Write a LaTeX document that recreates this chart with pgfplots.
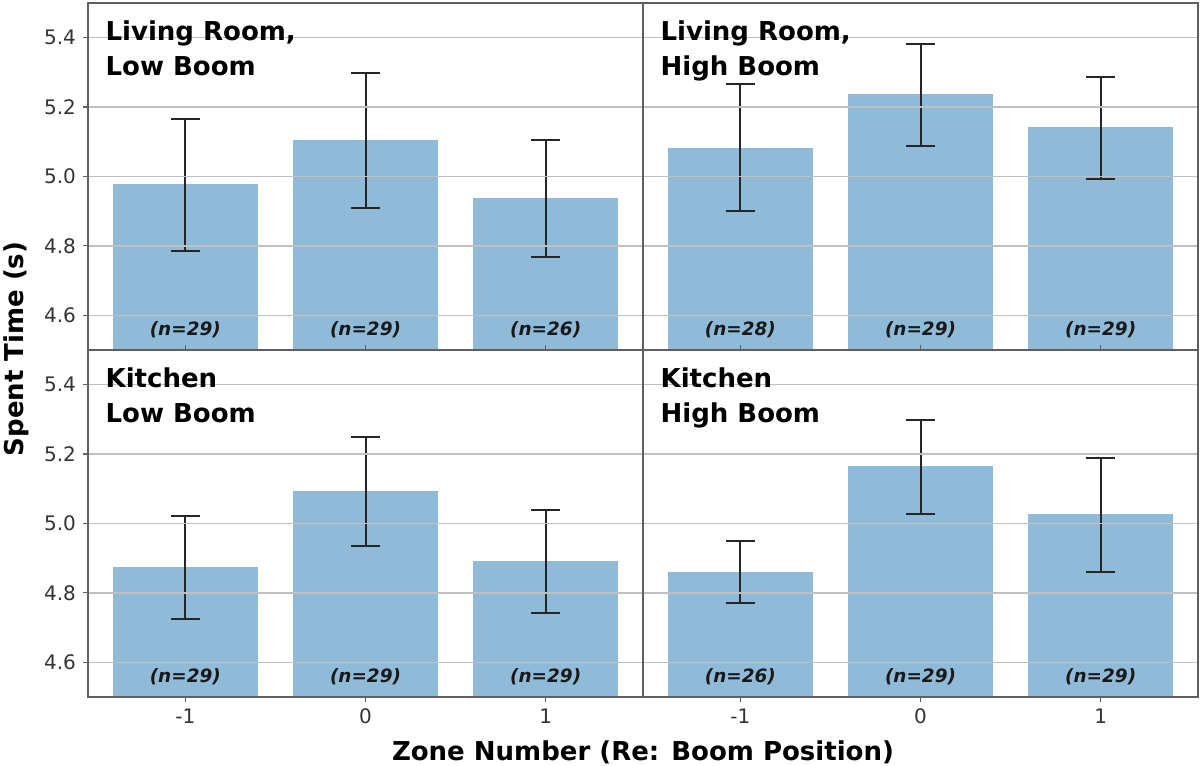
\documentclass[border=0pt]{standalone}
\usepackage{fontspec}
\setmainfont{DejaVu Sans}
\usepackage{pgfplots}
\pgfplotsset{compat=1.18}
\usepackage{pgfplotstable}
\definecolor{barblue}{RGB}{143,187,217}
\definecolor{framegray}{RGB}{95,95,95}
\definecolor{gridgray}{RGB}{192,192,192}
\definecolor{errcol}{RGB}{38,38,38}

\pgfplotstableread{
x y ep em
-1 4.977 0.189 0.191
0 5.103 0.194 0.194
1 4.937 0.169 0.168
}\LRL
\pgfplotstableread{
x y ep em
-1 5.080 0.186 0.180
0 5.237 0.146 0.148
1 5.140 0.146 0.146
}\LRH
\pgfplotstableread{
x y ep em
-1 4.874 0.149 0.148
0 5.091 0.158 0.157
1 4.891 0.149 0.148
}\KL
\pgfplotstableread{
x y ep em
-1 4.860 0.089 0.089
0 5.163 0.134 0.137
1 5.026 0.163 0.166
}\KH

\pgfplotsset{
  panel/.style={
    scale only axis, width=277.5pt, height=173.5pt,
    anchor=south west,
    xmin=-1.54, xmax=1.54, ymin=4.5, ymax=5.5,
    ytick={4.6,4.8,5.0,5.2,5.4},
    xtick={-1,0,1},
    ymajorgrids,
    major grid style={gridgray, line width=0.7pt},
    axis on top,
    tick align=outside,
    major tick length=2.5pt,
    major tick style={framegray, line width=0.6pt},
    axis line style={framegray, line width=0.6pt},
    every tick label/.append style={font=\fontsize{10}{12}\selectfont, text=black!80},
    /pgf/number format/assume math mode=true,
    yticklabel style={/pgf/number format/.cd, fixed, fixed zerofill, precision=1},
    clip=true,
  },
  toprow/.style={xticklabels={}, xtick style={draw=none}},
  rightcol/.style={yticklabels={}, ytick style={draw=none}},
  bars/.style={ybar, bar width=0.8, bar shift=0pt, fill=barblue, draw=barblue, line width=0pt,
    error bars/.cd, y dir=both, y explicit,
    error bar style={draw=errcol, line width=1pt},
    error mark options={rotate=90, mark size=7.2pt, line width=1pt, draw=errcol}},
}
\newcommand{\ttl}[2]{\node[anchor=north west, align=left, inner sep=0pt, font=\bfseries\fontsize{13}{17.5}\selectfont] at ([xshift=8.6pt,yshift=-8.8pt]#1.north west) {#2};}
\newcommand{\nlab}[2]{\node[font=\bfseries\itshape\fontsize{9.2}{10}\selectfont, text=black!90] at (axis cs:#1,4.557) {(n=#2)};}

\begin{document}
\begin{tikzpicture}
\useasboundingbox (0,0) rectangle (600pt,383pt);

\begin{axis}[panel, toprow, at={(44pt,208pt)}, name=p1]
\addplot[bars] table[x=x, y=y, y error plus=ep, y error minus=em] {\LRL};
\nlab{-1}{29}\nlab{0}{29}\nlab{1}{26}
\end{axis}

\begin{axis}[panel, toprow, rightcol, at={(321.5pt,208pt)}, name=p2]
\addplot[bars] table[x=x, y=y, y error plus=ep, y error minus=em] {\LRH};
\nlab{-1}{28}\nlab{0}{29}\nlab{1}{29}
\end{axis}

\begin{axis}[panel, at={(44pt,34.5pt)}, name=p3]
\addplot[bars] table[x=x, y=y, y error plus=ep, y error minus=em] {\KL};
\nlab{-1}{29}\nlab{0}{29}\nlab{1}{29}
\end{axis}

\begin{axis}[panel, rightcol, at={(321.5pt,34.5pt)}, name=p4]
\addplot[bars] table[x=x, y=y, y error plus=ep, y error minus=em] {\KH};
\nlab{-1}{26}\nlab{0}{29}\nlab{1}{29}
\end{axis}

\ttl{p1}{Living Room,\\Low Boom}
\ttl{p2}{Living Room,\\High Boom}
\ttl{p3}{Kitchen\\Low Boom}
\ttl{p4}{Kitchen\\High Boom}

\node[rotate=90, font=\bfseries\fontsize{13}{15}\selectfont] at (8pt,208.5pt) {Spent Time (s)};
\node[anchor=base, font=\bfseries\fontsize{13}{15}\selectfont] at (321.5pt,2.5pt) {Zone Number (Re: Boom Position)};
\end{tikzpicture}
\end{document}
